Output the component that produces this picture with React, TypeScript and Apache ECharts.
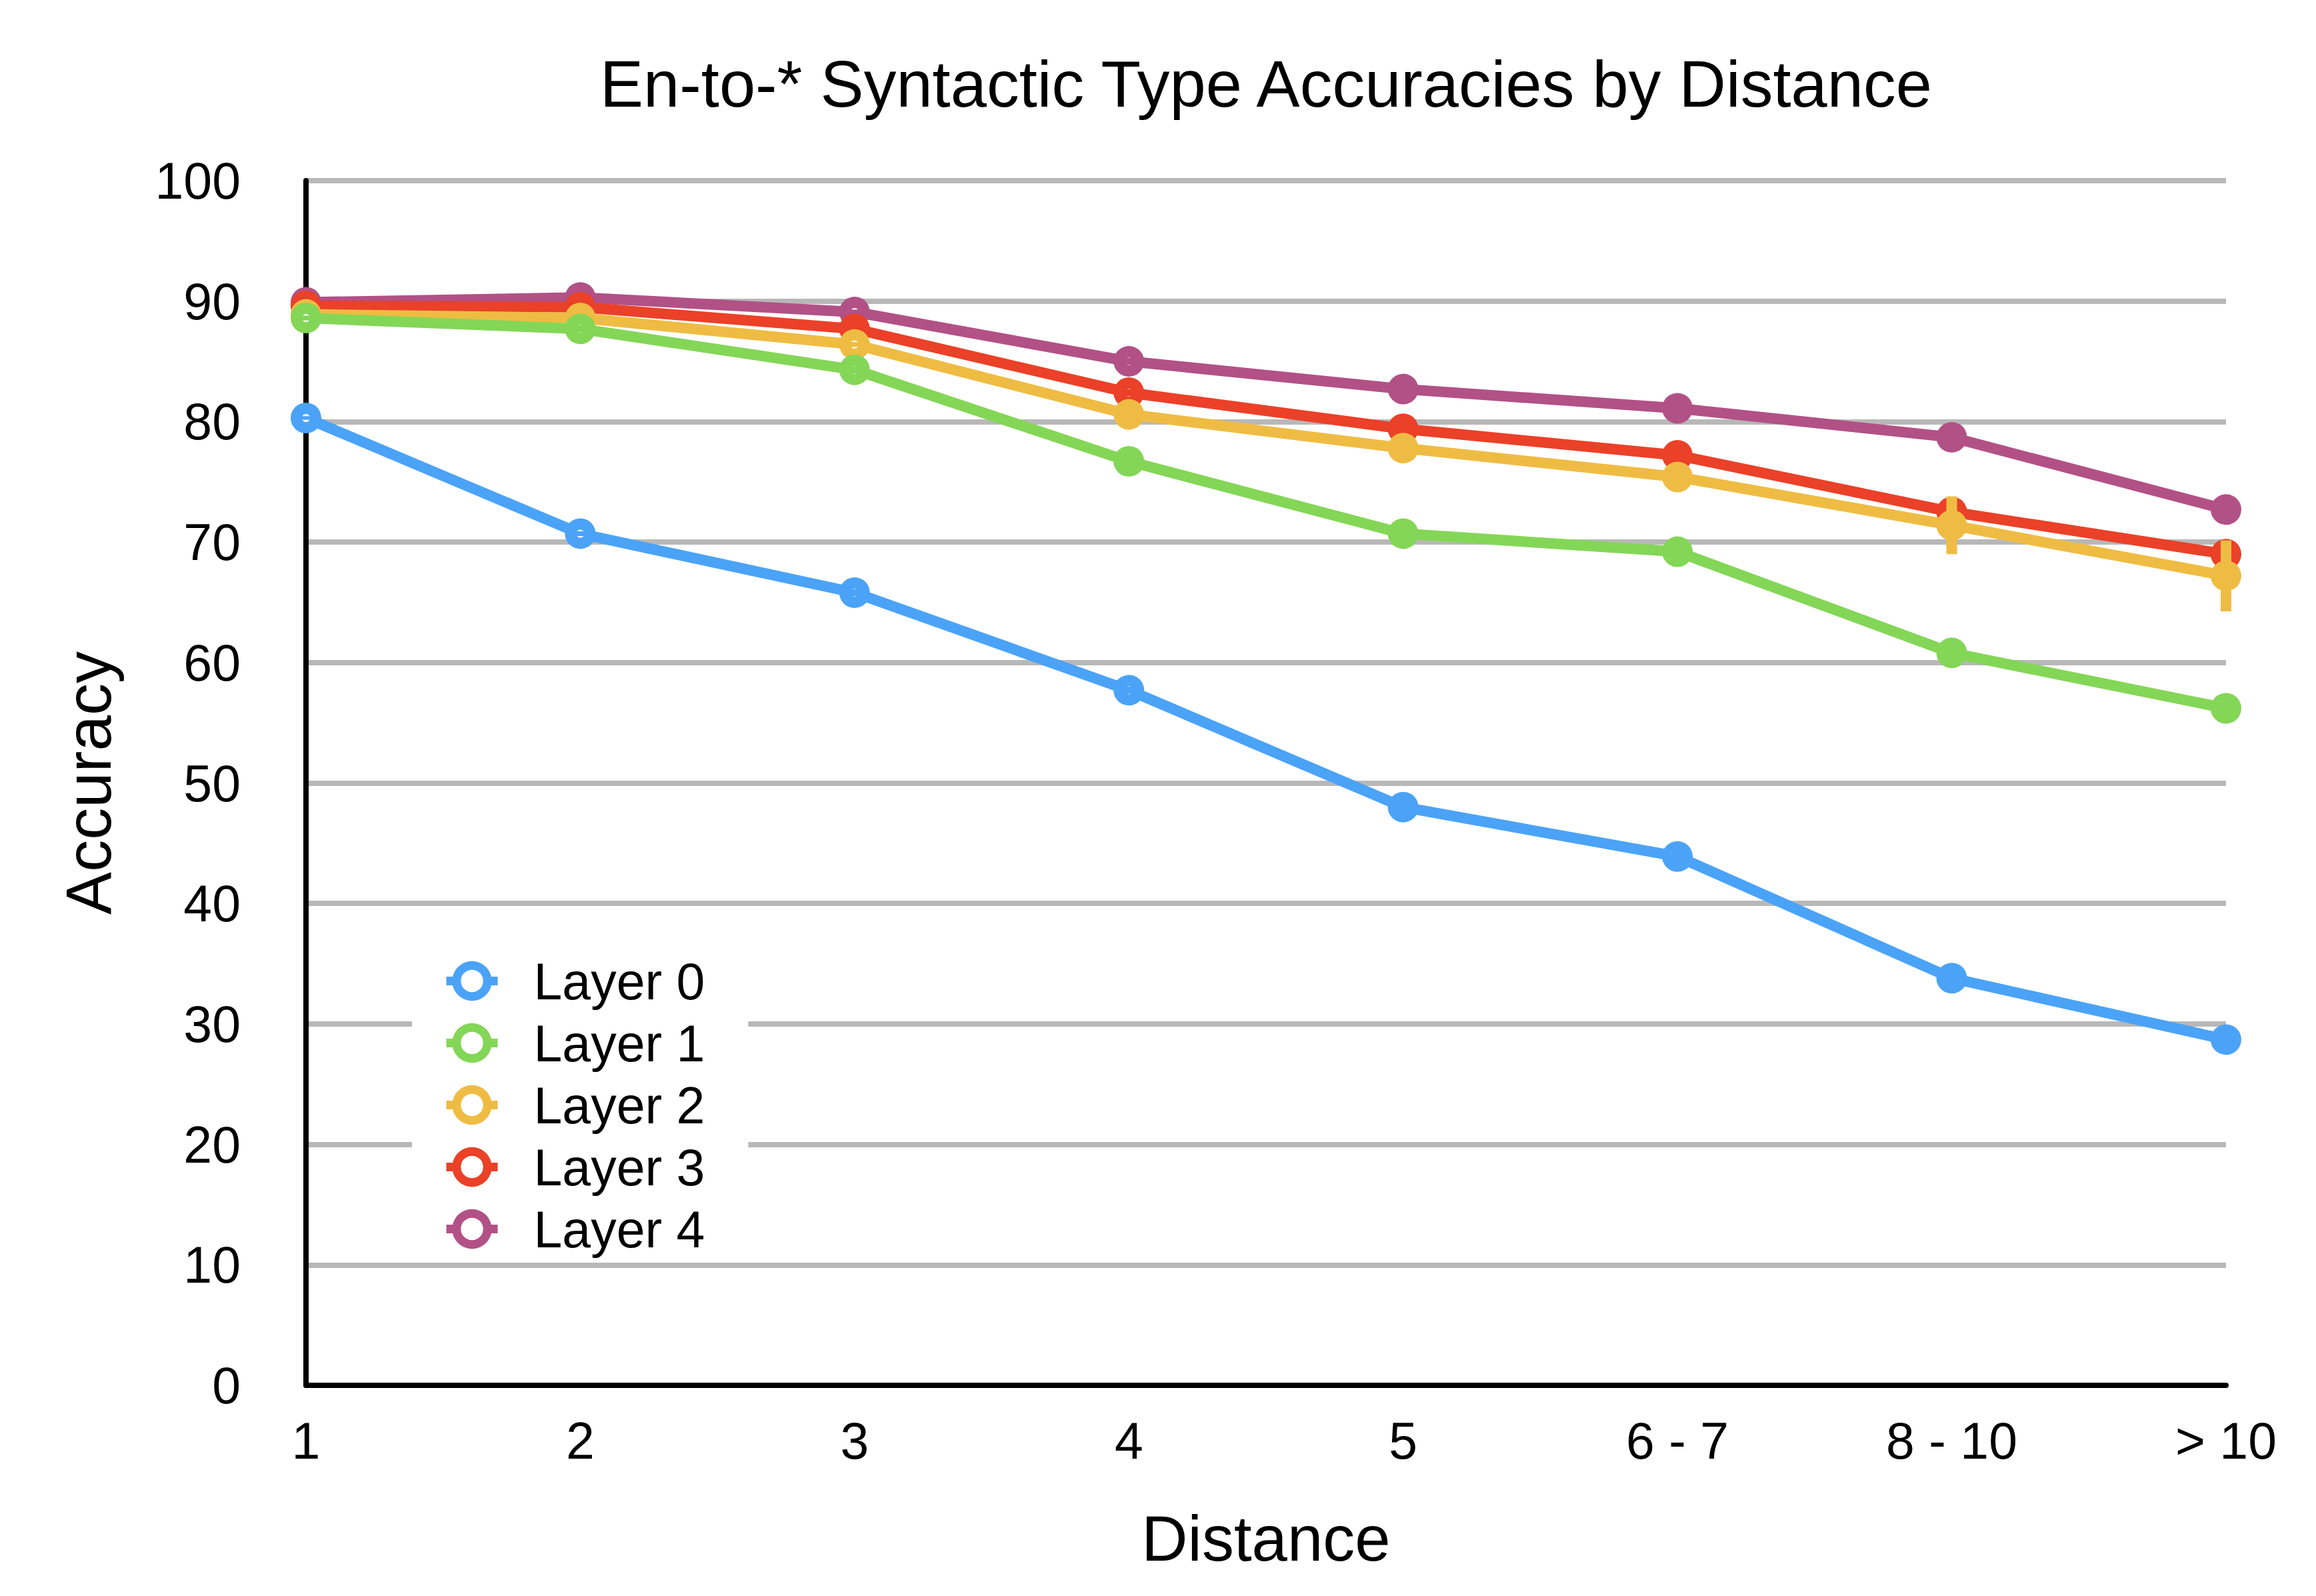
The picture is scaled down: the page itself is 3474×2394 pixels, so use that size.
import React, { useEffect, useRef } from 'react';
import * as echarts from 'echarts';

const categories = ['1', '2', '3', '4', '5', '6 - 7', '8 - 10', '> 10'];
const yTicks = { min: 0, max: 100, interval: 10 };

const seriesNames = ['Layer 0', 'Layer 1', 'Layer 2', 'Layer 3', 'Layer 4'];
const seriesColors = ['#4ba3f7', '#84d657', '#efbc43', '#ea4128', '#b25186'];

const layer0 = [80.3, 70.7, 65.8, 57.7, 48.0, 43.9, 33.8, 28.7];
const layer1 = [88.6, 87.7, 84.3, 76.7, 70.7, 69.2, 60.8, 56.2];
const layer2 = [88.9, 88.6, 86.4, 80.6, 77.8, 75.4, 71.4, 67.2];
const layer3 = [89.6, 89.5, 87.7, 82.4, 79.4, 77.2, 72.5, 69.0];
const layer4 = [89.9, 90.3, 89.1, 85.0, 82.7, 81.1, 78.7, 72.7];

const err0 = [0.15, 0.2, 0.3, 0.3, 0.4, 0.4, 0.5, 0.6];
const err1 = [0.2, 0.3, 0.3, 0.4, 0.5, 0.6, 0.8, 0.9];
const err2 = [0.2, 0.3, 0.2, 0.4, 0.5, 0.6, 2.4, 2.95];
const err3 = [0.2, 0.2, 0.4, 0.3, 0.4, 0.5, 0.7, 0.9];
const err4 = [0.15, 0.2, 0.2, 0.3, 0.4, 0.4, 0.6, 0.8];

const allValues = [layer0, layer1, layer2, layer3, layer4];
const allErrors = [err0, err1, err2, err3, err4];

const FONT = '"Liberation Sans", Arial, Helvetica, sans-serif';

function buildOption() {
  const series: any[] = [];
  seriesNames.forEach((name, i) => {
    const color = seriesColors[i];
    const z = 12 - 2 * i;
    series.push({
      name,
      type: 'line',
      data: allValues[i],
      z,
      symbol: 'circle',
      symbolSize: 29,
      showSymbol: true,
      showAllSymbol: true,
      lineStyle: { color, width: 16 },
      itemStyle: { color: '#ffffff', borderColor: color, borderWidth: 17 },
      emphasis: { disabled: true },
    });
    series.push({
      name: name + ' error',
      type: 'custom',
      z: z + 1,
      data: allValues[i].map((v, k) => [k, v, allErrors[i][k]]),
      encode: { x: 0, y: 1 },
      renderItem: (params: any, api: any) => {
        const x = api.value(0);
        const v = api.value(1);
        const e = api.value(2);
        const top = api.coord([x, v + e]);
        const bot = api.coord([x, v - e]);
        return {
          type: 'rect',
          shape: { x: top[0] - 8, y: top[1], width: 16, height: bot[1] - top[1] },
          style: { fill: color },
        };
      },
      silent: true,
    });
  });

  return {
    animation: false,
    backgroundColor: '#ffffff',
    textStyle: { fontFamily: FONT },
    graphic: [
      {
        type: 'text',
        x: 1899,
        y: 126,
        style: {
          text: 'En-to-* Syntactic Type Accuracies by Distance',
          align: 'center',
          verticalAlign: 'middle',
          fontSize: 97.5,
          fontFamily: FONT,
          fill: '#000000',
        },
      },
    ],
    grid: { left: 459, right: 135, top: 271, bottom: 316, containLabel: false },
    legend: {
      data: seriesNames.map((n, i) => ({
        name: n,
        itemStyle: { color: '#ffffff', borderColor: seriesColors[i], borderWidth: 13 },
        lineStyle: { color: seriesColors[i], width: 13 },
      })),
      orient: 'vertical',
      left: 618,
      top: 1403,
      padding: [30, 65, 5, 45],
      backgroundColor: '#ffffff',
      itemWidth: 77,
      itemHeight: 58,
      itemGap: 16,
      selectedMode: false,
      textStyle: {
        fontSize: 77,
        fontFamily: FONT,
        color: '#000000',
        padding: [0, 0, 0, 49],
      },
    },
    xAxis: {
      type: 'category',
      data: categories,
      boundaryGap: false,
      name: 'Distance',
      nameLocation: 'middle',
      nameGap: 181,
      nameTextStyle: { fontSize: 96, fontFamily: FONT, color: '#000000' },
      axisLine: { show: true, lineStyle: { color: '#000000', width: 8 } },
      axisTick: { show: false },
      axisLabel: { fontSize: 77, fontFamily: FONT, color: '#000000', margin: 44 },
      splitLine: { show: false },
    },
    yAxis: {
      type: 'value',
      min: yTicks.min,
      max: yTicks.max,
      interval: yTicks.interval,
      name: 'Accuracy',
      nameLocation: 'middle',
      nameGap: 279,
      nameTextStyle: { fontSize: 96, fontFamily: FONT, color: '#000000' },
      axisLine: { show: true, lineStyle: { color: '#000000', width: 8 } },
      axisTick: { show: false },
      axisLabel: { fontSize: 77, fontFamily: FONT, color: '#000000', margin: 98 },
      splitLine: { show: true, lineStyle: { color: '#b8b8b8', width: 8 } },
    },
    series,
  };
}

export default function App() {
  const ref = useRef<HTMLDivElement>(null);
  useEffect(() => {
    if (!ref.current) return;
    const chart = echarts.init(ref.current, null, { renderer: 'svg' });
    chart.setOption(buildOption() as any);
    return () => chart.dispose();
  }, []);
  return (
    <div
      ref={ref}
      style={{ position: 'fixed', left: 0, top: 0, width: 3474, height: 2394, background: '#ffffff' }}
    />
  );
}
